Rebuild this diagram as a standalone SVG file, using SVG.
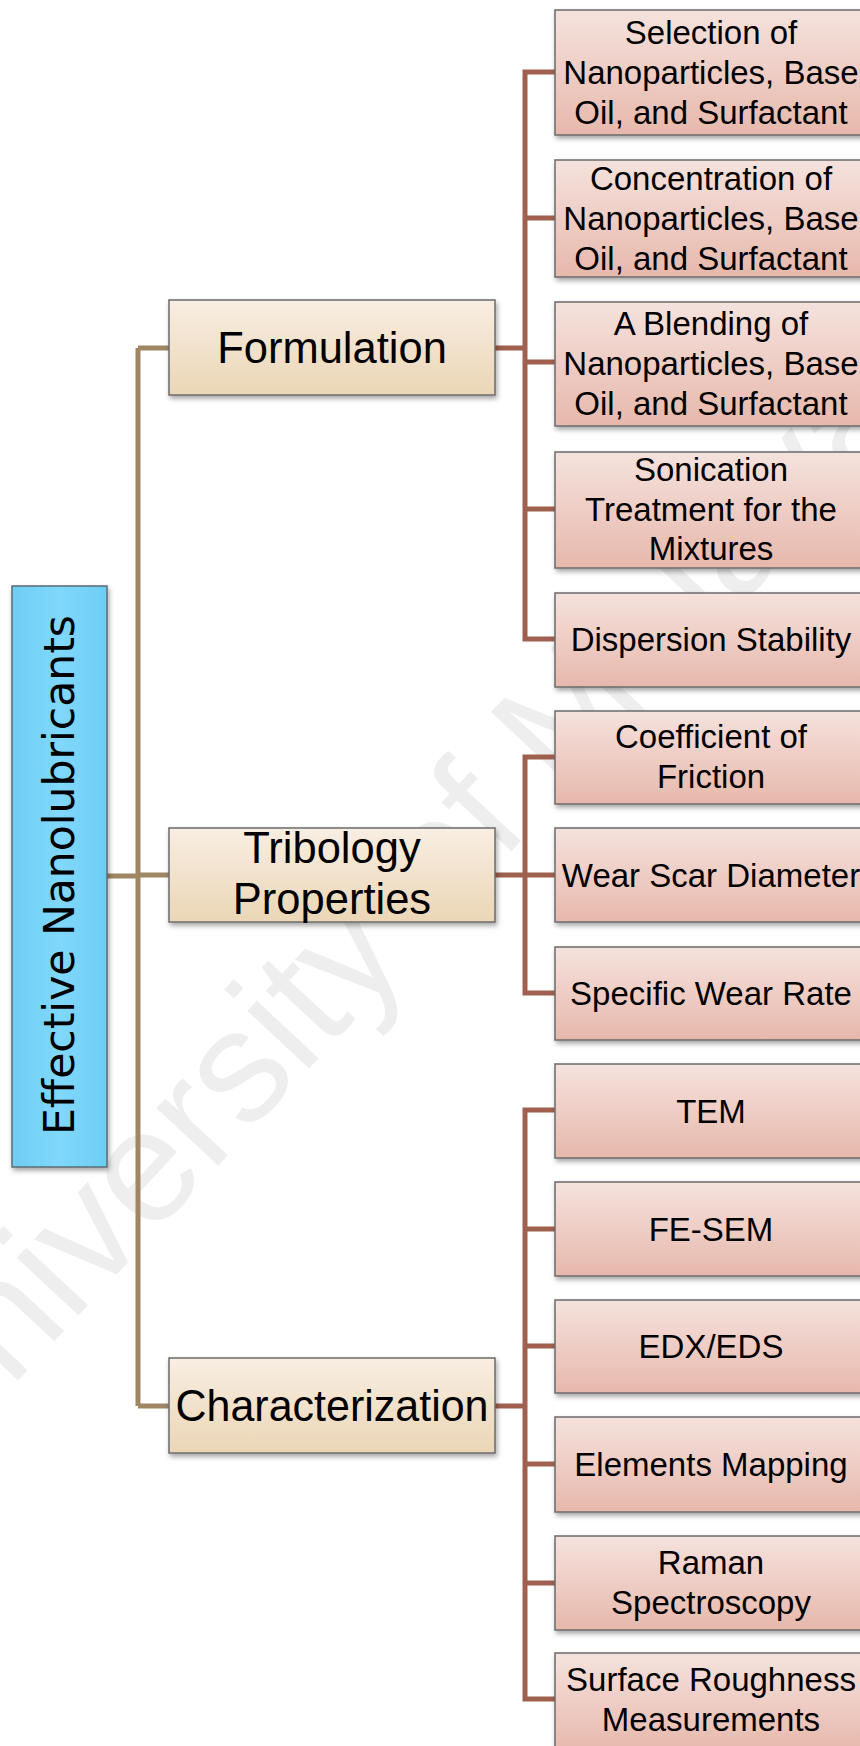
<svg xmlns="http://www.w3.org/2000/svg" width="860" height="1746" viewBox="0 0 860 1746">
<style>
.c2{fill:none;stroke:#A0604F;stroke-width:5;stroke-linejoin:miter}
.c1{fill:none;stroke:#A08763;stroke-width:5;stroke-linejoin:miter}
.b2{fill:url(#gPink);stroke:#6b6b6b;stroke-width:1.5;filter:url(#sh)}
.b1{fill:url(#gCream);stroke:#6b6b6b;stroke-width:1.5;filter:url(#sh)}
.b0{fill:url(#gBlue);stroke:#5a6b73;stroke-width:1.5;filter:url(#sh)}
.t2{font-family:"Liberation Sans",Arial,sans-serif;font-size:33px;fill:#000;text-anchor:middle}
.t1{font-family:"Liberation Sans",Arial,sans-serif;font-size:43.5px;fill:#000;text-anchor:middle}
.t0{font-family:"DejaVu Sans",Verdana,sans-serif;font-size:43px;fill:#000;text-anchor:middle}
.wm{font-family:"Liberation Sans",Arial,sans-serif;font-size:160px;fill:#000;fill-opacity:0.065;text-anchor:middle}
</style>
<defs>
<linearGradient id="gPink" x1="0" y1="0" x2="0" y2="1">
<stop offset="0" stop-color="#F5E2DD"/><stop offset="1" stop-color="#E7B8AC"/>
</linearGradient>
<linearGradient id="gCream" x1="0" y1="0" x2="0" y2="1">
<stop offset="0" stop-color="#F8EEE2"/><stop offset="1" stop-color="#EBD6B6"/>
</linearGradient>
<linearGradient id="gBlue" x1="0" y1="0" x2="1" y2="0">
<stop offset="0" stop-color="#6ECDF4"/><stop offset="0.5" stop-color="#80D8FB"/><stop offset="1" stop-color="#6ECDF4"/>
</linearGradient>
<filter id="sh" x="-10%" y="-10%" width="130%" height="130%">
<feDropShadow dx="1.5" dy="3" stdDeviation="2.5" flood-color="#000" flood-opacity="0.35"/>
</filter>
</defs>

<text class="wm" transform="translate(382,908) rotate(-47)" dy="0.35em">University of Malaya</text>

<g id="connectors">
<path class="c1" d="M107,876 H138 M138,348 V1406 M138,348 H170 M138,875 H170 M138,1406 H170"/>
<path class="c2" d="M494,348 H525 M555,72 H525 V639 H555 M525,218 H555 M525,362 H555 M525,509 H555"/>
<path class="c2" d="M494,875 H555 M555,757 H525 V993 H555"/>
<path class="c2" d="M495,1406 H525 M555,1110 H525 V1699 H555 M525,1229 H555 M525,1346 H555 M525,1464 H555 M525,1583 H555"/>
</g>

<g id="root">
<rect class="b0" x="12" y="586" width="95" height="581"/>
<text class="t0" transform="translate(74,875) rotate(-90)" textLength="520" lengthAdjust="spacingAndGlyphs">Effective Nanolubricants</text>
</g>

<g id="formulation">
<rect class="b1" x="169" y="300" width="326" height="95"/>
<text class="t1" x="332" y="363">Formulation</text>
</g>
<g id="tribology">
<rect class="b1" x="169" y="828" width="326" height="94"/>
<text class="t1" x="332" y="863">Tribology</text>
<text class="t1" x="332" y="914">Properties</text>
</g>
<g id="characterization">
<rect class="b1" x="169" y="1358" width="326" height="95"/>
<text class="t1" x="332" y="1421" textLength="313" lengthAdjust="spacingAndGlyphs">Characterization</text>
</g>

<g id="selection">
<rect class="b2" x="555" y="10" width="312" height="125"/>
<text class="t2" x="711" y="43.5">Selection of</text>
<text class="t2" x="711" y="83.5">Nanoparticles, Base</text>
<text class="t2" x="711" y="123.5">Oil, and Surfactant</text>
</g>
<g id="concentration">
<rect class="b2" x="555" y="160" width="312" height="117"/>
<text class="t2" x="711" y="190">Concentration of</text>
<text class="t2" x="711" y="230">Nanoparticles, Base</text>
<text class="t2" x="711" y="270">Oil, and Surfactant</text>
</g>
<g id="blending">
<rect class="b2" x="555" y="302" width="312" height="124"/>
<text class="t2" x="711" y="334.5">A Blending of</text>
<text class="t2" x="711" y="374.5">Nanoparticles, Base</text>
<text class="t2" x="711" y="414.5">Oil, and Surfactant</text>
</g>
<g id="sonication">
<rect class="b2" x="555" y="452" width="312" height="116"/>
<text class="t2" x="711" y="481">Sonication</text>
<text class="t2" x="711" y="521">Treatment for the</text>
<text class="t2" x="711" y="560">Mixtures</text>
</g>
<g id="dispersion">
<rect class="b2" x="555" y="593" width="312" height="94"/>
<text class="t2" x="711" y="651">Dispersion Stability</text>
</g>
<g id="coefficient">
<rect class="b2" x="555" y="711" width="312" height="93"/>
<text class="t2" x="711" y="748">Coefficient of</text>
<text class="t2" x="711" y="788">Friction</text>
</g>
<g id="wearscar">
<rect class="b2" x="555" y="828" width="312" height="94"/>
<text class="t2" x="711" y="886.5">Wear Scar Diameter</text>
</g>
<g id="specific">
<rect class="b2" x="555" y="947" width="312" height="93"/>
<text class="t2" x="711" y="1005">Specific Wear Rate</text>
</g>
<g id="tem">
<rect class="b2" x="555" y="1064" width="312" height="94"/>
<text class="t2" x="711" y="1122.5">TEM</text>
</g>
<g id="fesem">
<rect class="b2" x="555" y="1182" width="312" height="94"/>
<text class="t2" x="711" y="1240.5">FE-SEM</text>
</g>
<g id="edx">
<rect class="b2" x="555" y="1300" width="312" height="93"/>
<text class="t2" x="711" y="1358">EDX/EDS</text>
</g>
<g id="mapping">
<rect class="b2" x="555" y="1417" width="312" height="95"/>
<text class="t2" x="711" y="1476">Elements Mapping</text>
</g>
<g id="raman">
<rect class="b2" x="555" y="1536" width="312" height="94"/>
<text class="t2" x="711" y="1574">Raman</text>
<text class="t2" x="711" y="1614">Spectroscopy</text>
</g>
<g id="roughness">
<rect class="b2" x="555" y="1653" width="312" height="100"/>
<text class="t2" x="711" y="1691">Surface Roughness</text>
<text class="t2" x="711" y="1731">Measurements</text>
</g>
</svg>
